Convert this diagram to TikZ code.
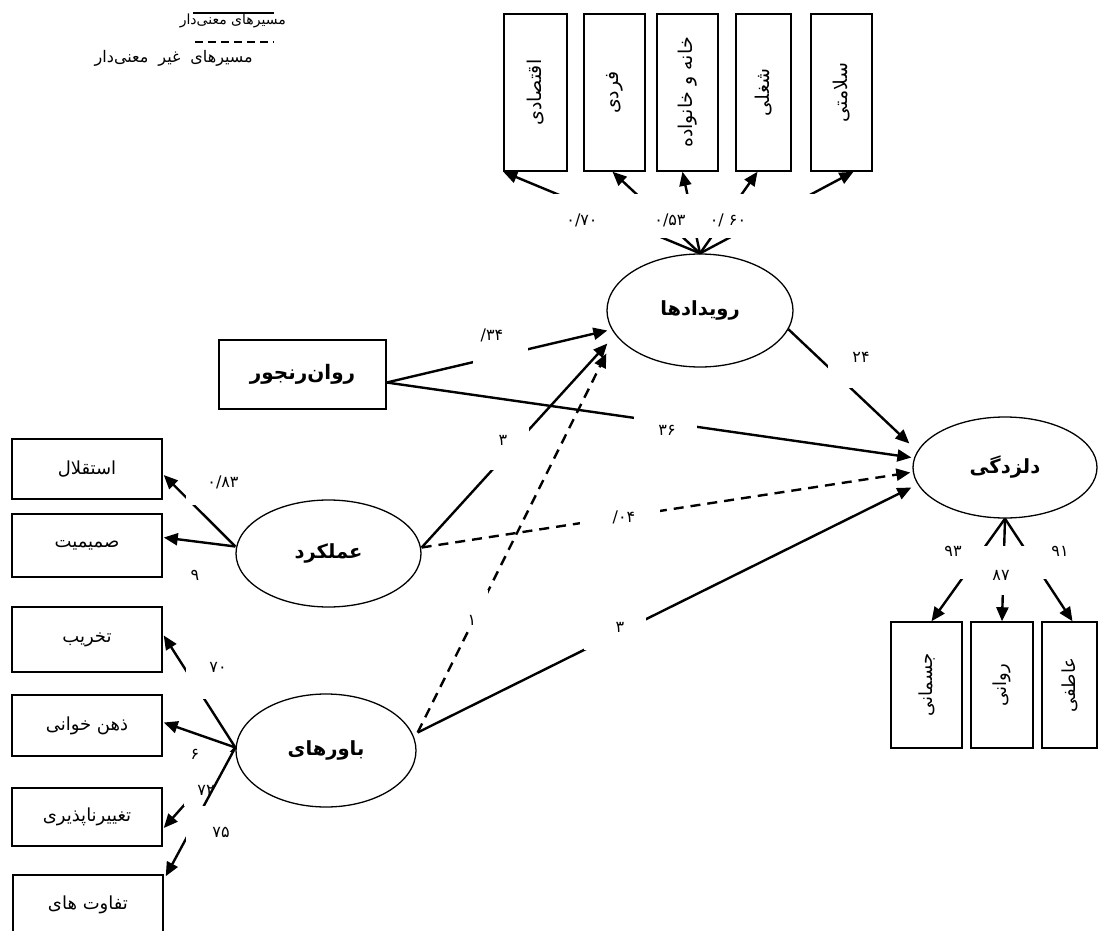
\documentclass[tikz,border=0pt]{standalone}
\usepackage{fontspec}
\usepackage{tikz}
\usetikzlibrary{arrows.meta}
\usetikzlibrary{shapes.geometric}
\newfontfamily\farsi[Script=Arabic]{DejaVu Sans}
\TeXXeTstate=1
\newcommand{\fatext}[1]{\beginR#1\endR}

\begin{document}
\begin{tikzpicture}[x=1pt, y=-1pt,
		gapbox/.style={fill=white, inner sep=0pt},
		coef/.style={inner sep=0pt, font=\farsi\fontsize{16}{18}\selectfont}]
	\useasboundingbox (0,0) rectangle (1098,931);
	\clip (0,0) rectangle (1098,931);
	\begin{scope}[every node/.style = {draw, line width=1.5pt, inner sep=0pt, minimum width=61pt, minimum height=157pt, font=\farsi\fontsize{19}{21}\selectfont}]
		\node[minimum width=63pt] (eqtesadi) at (535.5,92.5) {\rotatebox{90}{\fatext{اقتصادی}}};
		\node (fardi) at (614.5,92.5) {\rotatebox{90}{\fatext{فردی}}};
		\node (khane) at (687.5,92.5) {\rotatebox{90}{\fatext{خانه و خانواده}}};
		\node[minimum width=55pt] (shoghli) at (763.5,92.5) {\rotatebox{90}{\fatext{شغلی}}};
		\node (salamat) at (841.5,92.5) {\rotatebox{90}{\fatext{سلامتی}}};
	\end{scope}
	\begin{scope}[every node/.style = {draw, line width=1.5pt, inner sep=0pt, minimum width=150pt, font=\farsi\fontsize{18}{20}\selectfont}]
		\node[minimum height=60pt] (esteqlal) at (87,469) {\fatext{استقلال}};
		\node[minimum height=63pt] (samimiat) at (87,545.5) {\fatext{صمیمیت}};
		\node[minimum height=65pt] (takhrib) at (87,639.5) {\fatext{تخریب}};
		\node[minimum height=61pt] (zehn) at (87,725.5) {\fatext{ذهن خوانی}};
		\node[minimum height=58pt] (taghir) at (87,817) {\fatext{تغییرناپذیری}};
		\node[minimum height=60pt] (tafavot) at (88,905) {\fatext{تفاوت های}};
	\end{scope}
	\begin{scope}[every node/.style = {draw, line width=1.5pt, inner sep=0pt, minimum height=126pt, font=\farsi\fontsize{18}{20}\selectfont}]
		\node[minimum width=71pt] (jesmani) at (926.5,685) {\rotatebox{90}{\fatext{جسمانی}}};
		\node[minimum width=62pt] (ravani) at (1002,685) {\rotatebox{90}{\fatext{روانی}}};
		\node[minimum width=55pt] (atefi) at (1069.5,685) {\rotatebox{90}{\fatext{عاطفی}}};
	\end{scope}
	\node[draw, line width=1.5pt, minimum width=167pt, minimum height=69pt, font=\farsi\bfseries\fontsize{20}{22}\selectfont] (ravan) at (302.5,374.5) {\fatext{روان^^^^200cرنجور}};
	\begin{scope}[every node/.style = {ellipse, draw, line width=1.3pt, inner sep=0pt, font=\farsi\bfseries\fontsize{19.5}{22}\selectfont}]
		\node[minimum width=186pt, minimum height=113pt] (ruydad) at (700,310.5) {\fatext{رویدادها}};
		\node[minimum width=185pt, minimum height=107pt] (amalkard) at (328.5,553.5) {\fatext{عملکرد}};
		\node[minimum width=180pt, minimum height=113pt] (bavar) at (326,750.5) {\fatext{باورهای}};
		\node[minimum width=184pt, minimum height=101pt] (delzadegi) at (1005,467.5) {\fatext{دلزدگی}};
	\end{scope}
	\begin{scope}[>={Triangle[length=14pt,width=12pt]},
			every edge/.style={draw=black, line width=2.4pt}]
		\path [->] (ruydad.north) edge (eqtesadi.south west);
		\path [->] (ruydad.north) edge ([xshift=-2pt]fardi.south);
		\path [->] (ruydad.north) edge ([xshift=-5pt]khane.south);
		\path [->] (ruydad.north) edge ([xshift=-6pt]shoghli.south);
		\path [->] (ruydad.north) edge ([xshift=12pt]salamat.south);
		\path [->] ([yshift=-8pt]ravan.east) edge ([shift={(1,20)}]ruydad.west);
		\path [->] ([yshift=-8pt]ravan.east) edge ([shift={(-1,-10)}]delzadegi.west);
		\path [->] ([shift={(0,-6)}]amalkard.east) edge ([shift={(1,33)}]ruydad.west);
		\path [->] ([shift={(0,-6)}]amalkard.east) edge[dash pattern=on 10pt off 7pt] ([shift={(-2,5)}]delzadegi.west);
		\path [->] ([shift={(1,-18)}]bavar.east) edge[dash pattern=on 10pt off 7pt] ([shift={(0,43)}]ruydad.west);
		\path [->] ([shift={(1,-18)}]bavar.east) edge ([shift={(-1,20)}]delzadegi.west);
		\path [->] (ruydad.-12) edge ([shift={(-3,-24)}]delzadegi.west);
		\path [->] ([shift={(0,-7)}]amalkard.west) edge ([shift={(1,6)}]esteqlal.east);
		\path [->] ([shift={(0,-7)}]amalkard.west) edge ([shift={(1,-8)}]samimiat.east);
		\path [->] ([shift={(0,-3)}]bavar.west) edge ([shift={(1,-4)}]takhrib.east);
		\path [->] ([shift={(0,-3)}]bavar.west) edge ([shift={(1,-3)}]zehn.east);
		\path [->] ([shift={(0,-3)}]bavar.west) edge ([shift={(1,11)}]taghir.east);
		\path [->] (delzadegi.south) edge ([xshift=5pt]jesmani.north);
		\path [->] (delzadegi.south) edge (ravani.north);
		\path [->] (delzadegi.south) edge ([xshift=3pt]atefi.north);
		\node[gapbox, minimum width=48pt, minimum height=54pt] (g72) at (208,779) {};
		\node[coef] (l72) at (206,790) {۷۲};
		\path [->] ([shift={(0,-3)}]bavar.west) edge ([shift={(2,2)}]tafavot.north east);
	\end{scope}
	\begin{scope}[every node/.style = {gapbox}]
		\node[minimum width=380pt, minimum height=44pt] (gtop) at (690,216) {};
		\node[minimum width=55pt, minimum height=44pt] (g34) at (500.5,344) {};
		\node[minimum width=63pt, minimum height=30pt] (g36) at (665.5,427) {};
		\node[minimum width=39pt, minimum height=42pt] (g3a) at (509.5,449) {};
		\node[minimum width=80pt, minimum height=22pt] (g04) at (620,516) {};
		\node[minimum width=44pt, minimum height=44pt] (g24) at (850,366) {};
		\node[minimum width=22pt, minimum height=41pt] (g1) at (477,610.5) {};
		\node[minimum width=62pt, minimum height=34pt] (g3b) at (615,633) {};
		\node[minimum width=59pt, minimum height=35pt] (g83) at (215.5,487.5) {};
		\node[minimum width=49pt, minimum height=44pt] (g70) at (210.5,677) {};
		\node[minimum width=50pt, minimum height=40pt] (g75) at (211,826) {};
		\node[minimum width=134pt, minimum height=33pt] (gbot) at (1007,562.5) {};
		\node[minimum width=26pt, minimum height=30pt] (g87) at (1002,580) {};
	\end{scope}
	\begin{scope}[every node/.style = {coef}]
		\node (l070) at (582,220) {۰/۷۰};
		\node (l053) at (670,220) {۰/۵۳};
		\node (l060) at (728,220) {\beginR ۶۰ /۰\endR};
		\node (l34) at (492,335) {۳۴/};
		\node (l36) at (667,430) {۳۶};
		\node (l3a) at (503,440) {۳};
		\node (l04) at (624,517) {۰۴/};
		\node (l24) at (861,357) {۲۴};
		\node (l1) at (472,620) {۱};
		\node (l3b) at (620,627) {۳};
		\node (l083) at (223,482) {۰/۸۳};
		\node (l9) at (195,575) {۹};
		\node (l70) at (218,667) {۷۰};
		\node (l6) at (195,754) {۶};
		\node (l75) at (221,832) {۷۵};
		\node (l93) at (953,551) {۹۳};
		\node (l87) at (1001,575) {۸۷};
		\node (l91) at (1060,551) {۹۱};
	\end{scope}
	\begin{scope}[every node/.style = {inner sep=0pt, anchor=east, font=\farsi\fontsize{14}{16}\selectfont}]
		\node (sig) at (286,21) {\fatext{مسیرهای معنی^^^^200cدار}};
		\node[font=\farsi\fontsize{16}{18}\selectfont] (nonsig) at (253,58) {\fatext{مسیرهای\hspace{10pt}غیر\hspace{10pt}معنی^^^^200cدار}};
	\end{scope}
	\coordinate (siga) at (193,13);
	\coordinate (sigb) at (274,13);
	\coordinate (nsiga) at (195,42);
	\coordinate (nsigb) at (274,42);
	\draw[line width=1.2pt] (siga) -- (sigb);
	\draw[line width=1.3pt, dash pattern=on 8pt off 5pt] (nsiga) -- (nsigb);
\end{tikzpicture}
\end{document}
